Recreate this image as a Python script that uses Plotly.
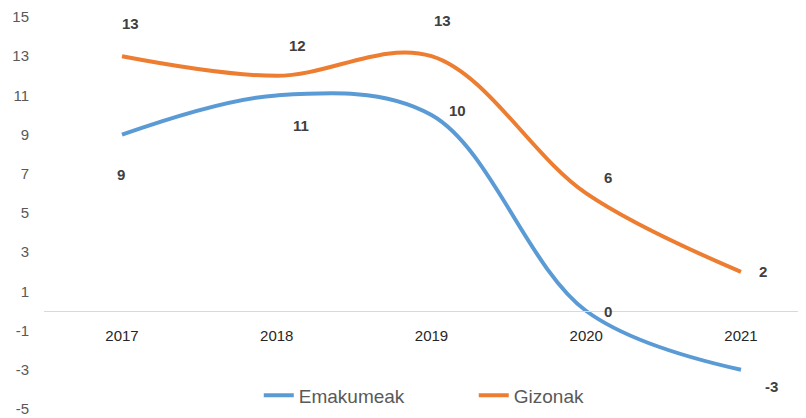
import plotly.graph_objects as go

years = ["2017", "2018", "2019", "2020", "2021"]
emakumeak = [9, 11, 10, 0, -3]
gizonak = [13, 12, 13, 6, 2]
y_ticks = [-5, -3, -1, 1, 3, 5, 7, 9, 11, 13, 15]

BLUE = "#5B9BD5"
ORANGE = "#ED7D31"
GREY = "#595959"
FONT = "Liberation Sans"

xpos = list(range(len(years)))

# label offsets in px (Excel puts them a bit all over the place)
emak_shift = [(-1, -40), (24, -30), (26, 5), (22, 0), (30, -17)]
giz_shift = [(8, 33), (21, 30), (11, 36), (22, 16), (22, 0)]

fig = go.Figure()
for name, vals, color in [("Emakumeak", emakumeak, BLUE), ("Gizonak", gizonak, ORANGE)]:
    fig.add_trace(go.Scatter(
        x=xpos, y=vals, name=name, mode="lines",
        line=dict(color=color, width=4, shape="spline", smoothing=1),
    ))

annotations = []
for vals, shifts in [(emakumeak, emak_shift), (gizonak, giz_shift)]:
    for i, v, (dx, dy) in zip(xpos, vals, shifts):
        annotations.append(dict(
            x=i, y=v, xref="x", yref="y",
            text=f"<b>{v}</b>", showarrow=False,
            xshift=dx, yshift=dy,
            font=dict(family=FONT, size=15, color="#404040"),
        ))

# page body has an 8px margin, so the figure is a bit smaller than the window
fig.update_layout(
    width=798, height=410,
    margin=dict(l=36, r=0, t=9, b=9),
    paper_bgcolor="white", plot_bgcolor="white",
    font=dict(family=FONT, color=GREY),
    annotations=annotations,
    showlegend=True,
    legend=dict(
        orientation="h", x=0.564, xanchor="center", y=0.035, yanchor="middle",
        font=dict(family=FONT, size=19, color=GREY),
        entrywidth=170, entrywidthmode="pixels",
        bgcolor="rgba(0,0,0,0)",
    ),
    xaxis=dict(
        range=[-0.504, 4.42],
        tickvals=xpos, ticktext=years,
        anchor="free", position=0.25,
        showline=True, linecolor="#D9D9D9", linewidth=1,
        showgrid=False, ticks="", zeroline=False,
        ticklabelstandoff=11,
        tickfont=dict(family=FONT, size=15, color="#262626"),
    ),
    yaxis=dict(
        range=[-5, 15], tickvals=y_ticks, ticktext=[str(t) for t in y_ticks],
        showgrid=False, zeroline=False, showline=False, ticks="",
        ticklabelstandoff=14,
        tickfont=dict(family=FONT, size=15, color=GREY),
    ),
)

fig.write_html("out.html")
